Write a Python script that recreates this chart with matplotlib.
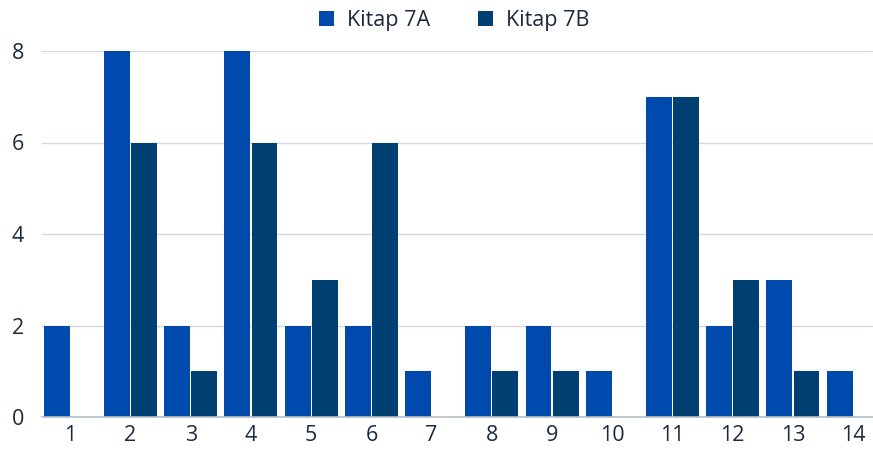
import matplotlib
matplotlib.use("Agg")
import matplotlib.pyplot as plt
import numpy as np

plt.rcParams['font.family'] = ['Open Sans', 'DejaVu Sans']

categories = [str(i) for i in range(1, 15)]
kitap_7a = [2, 8, 2, 8, 2, 2, 1, 2, 2, 1, 7, 2, 3, 1]
kitap_7b = [0, 6, 1, 6, 3, 6, 0, 1, 1, 0, 7, 3, 1, 0]

color_a = '#0049ad'
color_b = '#003f72'
text_color = '#1a2b3c'

fig = plt.figure(figsize=(8.73, 4.53), dpi=100)
ax = fig.add_axes([42 / 873, 36 / 453, 831 / 873, 366 / 453])

x = np.arange(1, len(categories) + 1)
width = 0.43
ax.bar(x - 0.225, kitap_7a, width, color=color_a, label='Kitap 7A', zorder=3)
ax.bar(x + 0.225, kitap_7b, width, color=color_b, label='Kitap 7B', zorder=3)

ax.set_xlim(0.53, 14.33)
ax.set_ylim(0, 8)
ax.set_yticks([0, 2, 4, 6, 8])
ax.set_xticks(x)
ax.set_xticklabels(categories)
ax.grid(axis='y', color='#d3d8de', linewidth=1, zorder=0)
for side in ['top', 'right', 'left']:
    ax.spines[side].set_visible(False)
ax.spines['bottom'].set_color('#b8bec6')
ax.spines['bottom'].set_linewidth(1.2)
ax.spines['bottom'].set_zorder(4)
ax.tick_params(axis='both', length=0, labelsize=15.5, labelcolor=text_color)
ax.tick_params(axis='y', pad=13)
ax.tick_params(axis='x', pad=6)

fig.legend(loc='upper center', bbox_to_anchor=(0.52, 1.02), ncol=2, frameon=False,
           fontsize=15.5, labelcolor=text_color, handlelength=0.7, handleheight=0.7,
           columnspacing=2.2, handletextpad=0.6)

fig.savefig('out.png', dpi=100)
